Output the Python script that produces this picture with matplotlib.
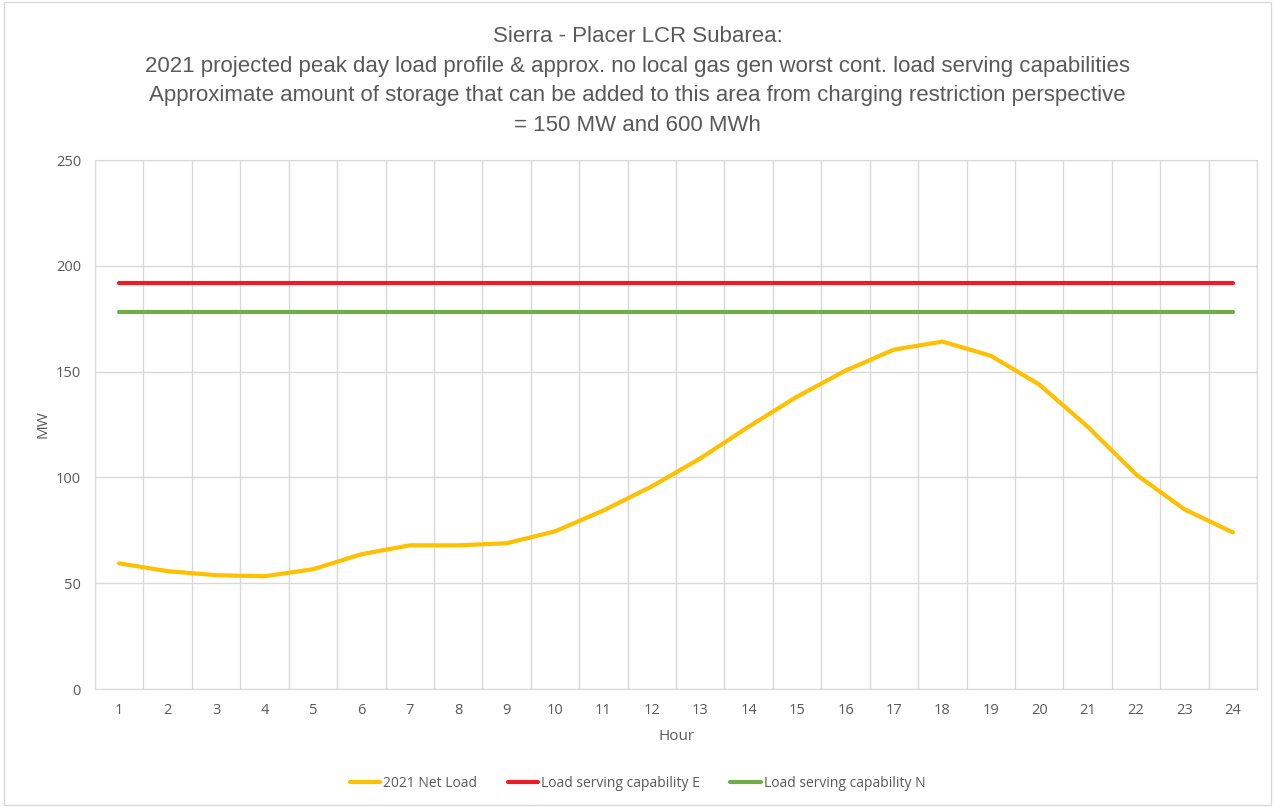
import matplotlib
matplotlib.use("Agg")
import matplotlib.pyplot as plt
from matplotlib.patches import Rectangle

hours = list(range(1, 25))
net_load = [59.4, 55.7, 53.8, 53.3, 56.6, 63.7, 67.9, 67.9, 68.9, 74.5, 84.4, 95.8,
            109.0, 124.0, 138.2, 150.5, 160.4, 164.2, 157.5, 143.9, 124.0, 101.4, 84.9, 74.0]
cap_e = [192] * 24
cap_n = [178] * 24

title = ("Sierra - Placer LCR Subarea:\n"
         "2021 projected peak day load profile & approx. no local gas gen worst cont. load serving capabilities\n"
         "Approximate amount of storage that can be added to this area from charging restriction perspective\n"
         "= 150 MW and 600 MWh")

plt.rcParams['font.family'] = ['Open Sans', 'DejaVu Sans']

fig = plt.figure(figsize=(12.75, 8.07), dpi=100)
ax = fig.add_axes([0.0745, 0.1462, 0.9115, 0.6555])

ax.plot(hours, net_load, color='#FFC000', lw=3, label='2021 Net Load', solid_capstyle='round')
ax.plot(hours, cap_e, color='#EE1C25', lw=3, label='Load serving capability E', solid_capstyle='round')
ax.plot(hours, cap_n, color='#70AD47', lw=3, label='Load serving capability N', solid_capstyle='round')

ax.set_xlim(0.5, 24.5)
ax.set_ylim(0, 250)
ax.set_yticks(range(0, 251, 50))
ax.set_xticks(hours)
ax.set_xticks([h + 0.5 for h in range(0, 25)], minor=True)
ax.grid(True, axis='y', color='#D9D9D9', lw=1)
ax.grid(True, axis='x', which='minor', color='#D9D9D9', lw=1)
ax.set_axisbelow(True)
for s in ax.spines.values():
    s.set_color('#D9D9D9')
ax.tick_params(which='both', length=0, colors='#595959', labelsize=10.5)
ax.tick_params(axis='y', pad=10)
ax.tick_params(axis='x', pad=10)

ax.set_xlabel('Hour', color='#595959', fontsize=11, labelpad=8)
ax.set_ylabel('MW', color='#595959', fontsize=11, labelpad=4)

fig.text(0.5, 0.968, title, ha='center', va='top', fontsize=16, color='#595959',
         linespacing=1.55, family=['Liberation Sans Narrow', 'Liberation Sans'])

fig.legend(loc='center', bbox_to_anchor=(0.5, 0.029), ncol=3, frameon=False,
           fontsize=10, handlelength=2.2, handletextpad=0.2, columnspacing=2.2,
           labelcolor='#595959')

fig.patches.append(Rectangle((0.003, 0.003), 0.994, 0.994, transform=fig.transFigure,
                             fill=False, edgecolor='#D9D9D9', lw=1))

fig.savefig('out.png', dpi=100, facecolor='white')
